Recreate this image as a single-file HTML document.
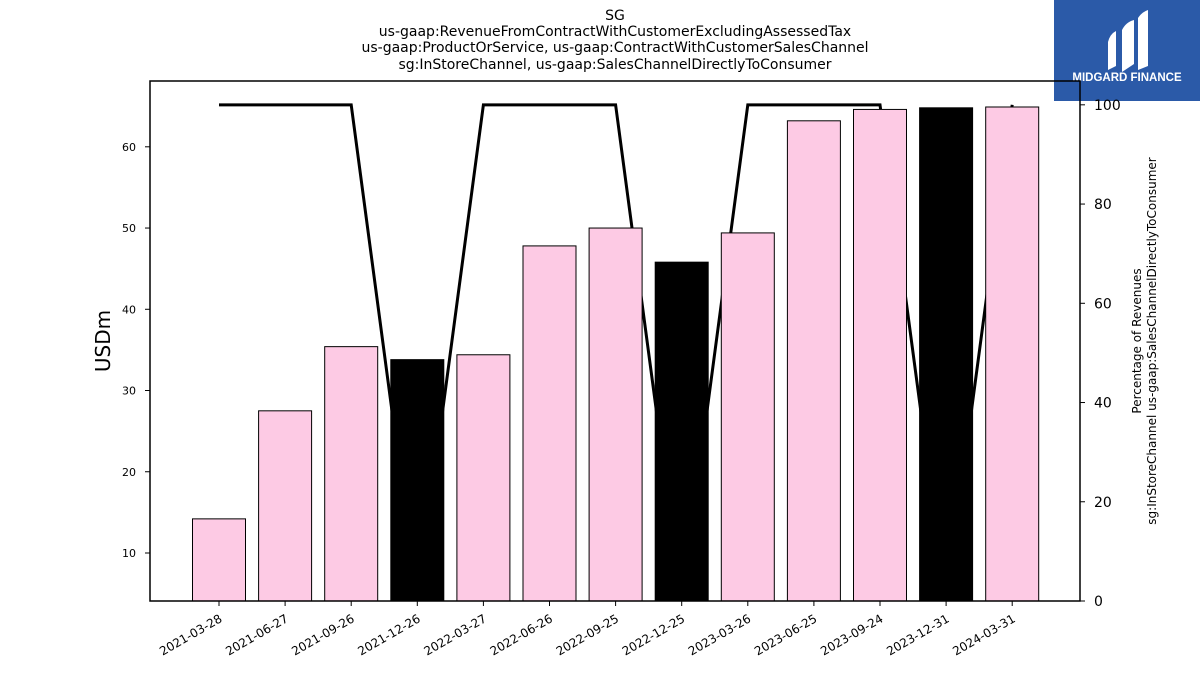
<!DOCTYPE html>
<html><head><meta charset="utf-8"><style>
body{margin:0;background:#fff;font-family:"Liberation Sans","DejaVu Sans",sans-serif}
</style></head><body>
<svg id="chart" width="1200" height="675" xmlns="http://www.w3.org/2000/svg" font-family="DejaVu Sans, Liberation Sans, sans-serif">
<g font-size="14" text-anchor="middle" fill="#000">
<text x="615" y="20">SG</text>
<text x="615" y="36">us-gaap:RevenueFromContractWithCustomerExcludingAssessedTax</text>
<text x="615" y="52">us-gaap:ProductOrService, us-gaap:ContractWithCustomerSalesChannel</text>
<text x="615" y="69">sg:InStoreChannel, us-gaap:SalesChannelDirectlyToConsumer</text>
</g>
<g>
<rect x="1054" y="0" width="146" height="101" fill="#2b5aa8"/>
<path d="M1108 70 L1108 42 Q1110 34 1116 31 L1116 66 Z" fill="#fff"/>
<path d="M1122 72 L1122 30 Q1126 22 1134 20 L1134 64 Z" fill="#fff"/>
<path d="M1138 70 L1138 18 Q1142 12 1148 10 L1148 66 Z" fill="#fff"/>
<text x="1127" y="81" font-size="11.5" font-weight="bold" fill="#fff" text-anchor="middle" font-family="Liberation Sans, sans-serif">MIDGARD FINANCE</text>
</g>
<g id="plot"></g>
<text x="110" y="341" font-size="20" text-anchor="middle" transform="rotate(-90 110 341)">USDm</text>
<g font-size="12" text-anchor="middle">
<text x="1141" y="341" transform="rotate(-90 1141 341)">Percentage of Revenues</text>
<text x="1156" y="341" transform="rotate(-90 1156 341)">sg:InStoreChannel us-gaap:SalesChannelDirectlyToConsumer</text>
</g>
</svg>
<script>
const categories=["2021-03-28","2021-06-27","2021-09-26","2021-12-26","2022-03-27","2022-06-26","2022-09-25","2022-12-25","2023-03-26","2023-06-25","2023-09-24","2023-12-31","2024-03-31"];
const revenue=[14.2,27.5,35.4,33.8,34.4,47.8,50.0,45.8,49.4,63.2,64.6,64.8,64.9];
const highlight=[0,0,0,1,0,0,0,1,0,0,0,1,0];
const percent=[100,100,100,0,100,100,100,0,100,100,100,0,100];
const leftTicks=[10,20,30,40,50,60];
const rightTicks=[0,20,40,60,80,100];
const NS="http://www.w3.org/2000/svg";
const L=150,R=1080,T=81,B=601;
const y0=4.09,y1=68.1,p0=0,p1=104.8;
const yS=v=>B-(v-y0)/(y1-y0)*(B-T);
const pS=v=>B-(v-p0)/(p1-p0)*(B-T);
const step=66.1, first=219;
const xS=i=>first+i*step;
const bw=53;
const g=document.getElementById('plot');
function mk(t,a){const e=document.createElementNS(NS,t);for(const k in a)e.setAttribute(k,a[k]);g.appendChild(e);return e;}
const cp=mk('clipPath',{id:'c'});const cr=document.createElementNS(NS,'rect');cr.setAttribute('x',L);cr.setAttribute('y',T);cr.setAttribute('width',R-L);cr.setAttribute('height',B-T);cp.appendChild(cr);
const line=mk('polyline',{points:percent.map((v,i)=>xS(i)+','+pS(v)).join(' '),fill:'none',stroke:'#000','stroke-width':3,'clip-path':'url(#c)'});


revenue.forEach((v,i)=>{
 const r=mk('rect',{x:xS(i)-bw/2,y:yS(v),width:bw,height:B-yS(v),fill:highlight[i]?'#000':'#fdcae4',stroke:'#000','stroke-width':1});
 
 
 const tk=mk('line',{x1:xS(i),x2:xS(i),y1:B,y2:B+5,stroke:'#000'});
 
 
 const tx=mk('text',{x:xS(i)+4,y:B+20,'font-size':12,'text-anchor':'end',transform:`rotate(-30 ${xS(i)+4} ${B+20})`});
 tx.textContent=categories[i];
 
 
});
leftTicks.forEach(v=>{
 const tk=mk('line',{x1:L-5,x2:L,y1:yS(v),y2:yS(v),stroke:'#000'});
 
 
 const t=mk('text',{x:L-14,y:yS(v)+4,'font-size':11,'text-anchor':'end'});t.textContent=v;
 
 
});
rightTicks.forEach(v=>{
 const tk=mk('line',{x1:R,x2:R+5,y1:pS(v),y2:pS(v),stroke:'#000'});
 
 
 const t=mk('text',{x:R+14,y:pS(v)+5,'font-size':14});t.textContent=v;
 
 
});
const fr=mk('rect',{x:L,y:T,width:R-L,height:B-T,fill:'none',stroke:'#000','stroke-width':1.5});


</script>
</body></html>
